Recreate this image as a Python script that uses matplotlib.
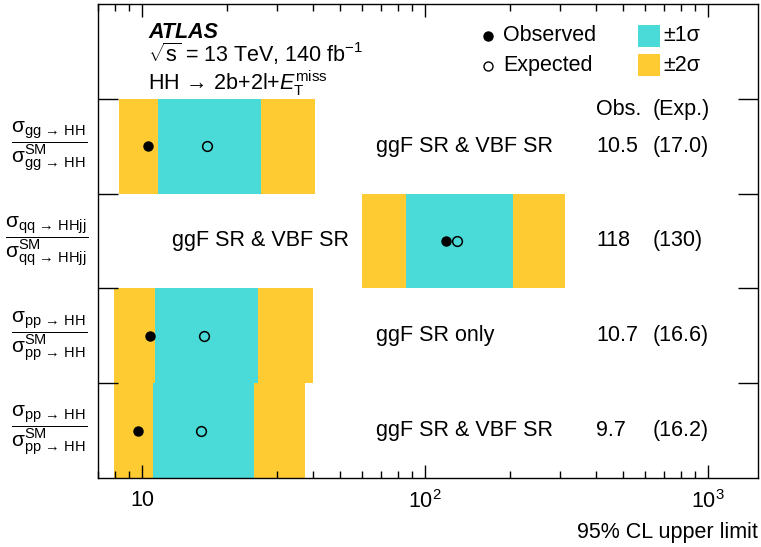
import numpy as np
import matplotlib
matplotlib.use('Agg')
import matplotlib.pyplot as plt
from matplotlib.patches import Rectangle
from matplotlib.ticker import FixedLocator, FuncFormatter, LogLocator, NullFormatter

plt.rcParams['font.family'] = ['Liberation Sans', 'DejaVu Sans']
plt.rcParams['mathtext.fontset'] = 'custom'
plt.rcParams['mathtext.rm'] = 'Liberation Sans'
plt.rcParams['mathtext.it'] = 'Liberation Sans:italic'
plt.rcParams['mathtext.bf'] = 'Liberation Sans:bold'
plt.rcParams['mathtext.sf'] = 'Liberation Sans'

# 数据（从上到下四行）
row_labels = [
    r'$\dfrac{\mathrm{\sigma_{gg\,\rightarrow\,HH}}}{\mathrm{\sigma^{SM}_{gg\,\rightarrow\,HH}}}$',
    r'$\dfrac{\mathrm{\sigma_{qq\,\rightarrow\,HHjj}}}{\mathrm{\sigma^{SM}_{qq\,\rightarrow\,HHjj}}}$',
    r'$\dfrac{\mathrm{\sigma_{pp\,\rightarrow\,HH}}}{\mathrm{\sigma^{SM}_{pp\,\rightarrow\,HH}}}$',
    r'$\dfrac{\mathrm{\sigma_{pp\,\rightarrow\,HH}}}{\mathrm{\sigma^{SM}_{pp\,\rightarrow\,HH}}}$',
]
regions = ['ggF SR & VBF SR', 'ggF SR & VBF SR', 'ggF SR only', 'ggF SR & VBF SR']
obs = [10.5, 118, 10.7, 9.7]
exp = [17.0, 130, 16.6, 16.2]
obs_text = ['10.5', '118', '10.7', '9.7']
exp_text = ['(17.0)', '(130)', '(16.6)', '(16.2)']
sig1_lo = [11.4, 85.8, 11.1, 10.9]
sig1_hi = [26.2, 204, 25.6, 24.9]
sig2_lo = [8.27, 60.0, 7.96, 7.96]
sig2_hi = [40.8, 311, 40.2, 37.7]

c1 = '#4adad8'
c2 = '#fecb32'
fs = 15.5

fig = plt.figure(figsize=(7.61, 5.47), dpi=100)
ax = fig.add_axes([0.1292, 0.1262, 0.8669, 0.8665])
ax.set_xscale('log')
ax.set_xlim(7, 1500)
ax.set_ylim(0, 5)

n = len(obs)
ys = np.arange(n)[::-1] + 0.5   # 行中心
for i in range(n):
    y0 = ys[i] - 0.5
    ax.barh(y0, sig2_hi[i] - sig2_lo[i], left=sig2_lo[i], height=1.0, align='edge',
            color=c2, lw=0, zorder=1)
    ax.barh(y0, sig1_hi[i] - sig1_lo[i], left=sig1_lo[i], height=1.0, align='edge',
            color=c1, lw=0, zorder=2)
ax.plot(obs, ys, 'o', color='black', ms=6.5, zorder=4)
ax.plot(exp, ys, 'o', mfc='none', mec='black', mew=1.1, ms=7, zorder=4)

# 区域标签和数值
label_x = [66.8, 12.7, 66.8, 66.8]
for i in range(n):
    ax.text(label_x[i], ys[i], regions[i], fontsize=fs, va='center', ha='left')
    ax.text(0.7544, ys[i], obs_text[i], fontsize=fs, va='center', ha='left',
            transform=ax.get_yaxis_transform())
    ax.text(0.8404, ys[i], exp_text[i], fontsize=fs, va='center', ha='left',
            transform=ax.get_yaxis_transform())
ax.text(0.7544, 0.778, 'Obs.', fontsize=fs, va='center', ha='left', transform=ax.transAxes)
ax.text(0.8404, 0.778, '(Exp.)', fontsize=fs, va='center', ha='left', transform=ax.transAxes)

# 标题信息
ax.text(0.0758, 0.940, 'ATLAS', fontsize=fs, fontweight='bold', fontstyle='italic',
        va='center', ha='left', transform=ax.transAxes)
ax.text(0.0758, 0.894, r'$\sqrt{\mathrm{s}}$ = 13 TeV, 140 fb$^{\mathrm{-1}}$', fontsize=fs,
        va='center', ha='left', transform=ax.transAxes)
ax.text(0.0758, 0.832, r'HH$\,\rightarrow\,$2b+2l+$E_{\mathrm{T}}^{\mathrm{miss}}$', fontsize=fs,
        va='center', ha='left', transform=ax.transAxes)

# 图例（手动）
ax.plot([0.5907], [0.933], 'o', color='black', ms=6.5, transform=ax.transAxes, clip_on=False)
ax.plot([0.5907], [0.870], 'o', mfc='none', mec='black', mew=1.0, ms=6.5,
        transform=ax.transAxes, clip_on=False)
ax.text(0.6135, 0.933, 'Observed', fontsize=fs, va='center', ha='left', transform=ax.transAxes)
ax.text(0.6135, 0.870, 'Expected', fontsize=fs, va='center', ha='left', transform=ax.transAxes)
ax.add_patch(Rectangle((0.8179, 0.9099), 0.0333, 0.0458, color=c1, lw=0, transform=ax.transAxes))
ax.add_patch(Rectangle((0.8179, 0.8481), 0.0333, 0.0458, color=c2, lw=0, transform=ax.transAxes))
ax.text(0.8559, 0.933, '±1σ', fontsize=fs, va='center', ha='left', transform=ax.transAxes)
ax.text(0.8559, 0.870, '±2σ', fontsize=fs, va='center', ha='left', transform=ax.transAxes)

# 坐标轴
ax.xaxis.set_major_locator(FixedLocator([10, 100, 1000]))
ax.xaxis.set_major_formatter(FuncFormatter(lambda v, p: '10' if v == 10 else r'$10^{%d}$' % round(np.log10(v))))
ax.xaxis.set_minor_locator(LogLocator(base=10, subs=np.arange(2, 10)))
ax.xaxis.set_minor_formatter(NullFormatter())
ax.tick_params(axis='x', which='major', direction='in', top=True, length=9.5, width=1.0,
               labelsize=fs, pad=9)
ax.tick_params(axis='x', which='minor', direction='in', top=True, length=5, width=1.0)

ax.set_yticks([1, 2, 3, 4])
ax.set_yticklabels([])
ax.set_yticks(ys, minor=True)
ax.set_yticklabels(row_labels, minor=True)
ax.tick_params(axis='y', which='major', direction='in', right=True, length=14.5, width=1.0)
ax.tick_params(axis='y', which='minor', length=0, labelsize=15, pad=7.5)
for lbl in ax.get_yticklabels(minor=True):
    lbl.set_va('center')

for s in ax.spines.values():
    s.set_linewidth(1.0)

ax.set_xlabel('95% CL upper limit', fontsize=fs, loc='right', labelpad=6)

plt.savefig('out.png', dpi=100)
